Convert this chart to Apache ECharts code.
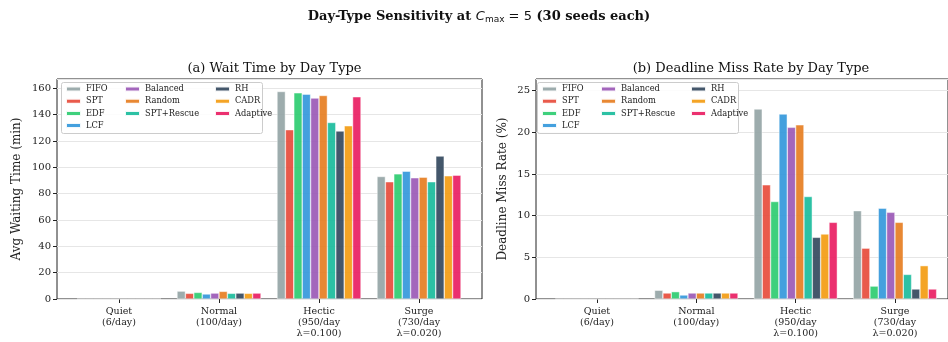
<!DOCTYPE html>
<html lang="en">
<head>
    <meta charset="UTF-8">
    <title>Day-Type Sensitivity</title>
    <script src="https://cdn.jsdelivr.net/npm/echarts@6/dist/echarts.min.js"></script>
    <style>
        *{ margin: 0; padding: 0; }
        body{ background-color: #fff; overflow: hidden; }
    </style>
</head>
<body>
<div id="main" style="width:948px;height:342px;"></div>
<script>
    // categories (day types)
    var dayTypes = ['Quiet\n(6/day)', 'Normal\n(100/day)', 'Hectic\n(950/day\nλ=0.100)', 'Surge\n(730/day\nλ=0.020)'];
    var policies = ['FIFO', 'SPT', 'EDF', 'LCF', 'Balanced', 'Random', 'SPT+Rescue', 'RH', 'CADR', 'Adaptive'];
    var colors = ['#95a5a6', '#e74c3c', '#2ecc71', '#3498db', '#9b59b6', '#e67e22', '#1abc9c', '#34495e', '#f39c12', '#e91e63'];

    // avg waiting time (min), one array per policy: Quiet, Normal, Hectic, Surge
    var waitFIFO       = [0, 6.0, 157.5, 93.0];
    var waitSPT        = [0, 4.3, 128.5, 89.0];
    var waitEDF        = [0, 5.0, 156.5, 95.0];
    var waitLCF        = [0, 3.8, 155.5, 97.0];
    var waitBalanced   = [0, 4.5, 152.5, 92.0];
    var waitRandom     = [0, 5.8, 154.5, 92.5];
    var waitSPTRescue  = [0, 4.3, 134.0, 89.0];
    var waitRH         = [0, 4.5, 127.5, 108.5];
    var waitCADR       = [0, 4.3, 131.5, 93.5];
    var waitAdaptive   = [0, 4.5, 153.5, 94.0];

    // deadline miss rate (%)
    var missFIFO       = [0, 1.05, 22.8, 10.6];
    var missSPT        = [0, 0.72, 13.7, 6.1];
    var missEDF        = [0, 0.88, 11.7, 1.55];
    var missLCF        = [0, 0.48, 22.2, 10.9];
    var missBalanced   = [0, 0.72, 20.6, 10.4];
    var missRandom     = [0, 0.72, 20.9, 9.2];
    var missSPTRescue  = [0, 0.72, 12.3, 2.95];
    var missRH         = [0, 0.72, 7.4, 1.2];
    var missCADR       = [0, 0.72, 7.8, 4.0];
    var missAdaptive   = [0, 0.72, 9.2, 1.2];

    var waitData = [waitFIFO, waitSPT, waitEDF, waitLCF, waitBalanced, waitRandom, waitSPTRescue, waitRH, waitCADR, waitAdaptive];
    var missData = [missFIFO, missSPT, missEDF, missLCF, missBalanced, missRandom, missSPTRescue, missRH, missCADR, missAdaptive];

    var serif = 'DejaVu Serif';
    var axisColor = '#222';

    var myChart = echarts.init(document.getElementById('main'));

    function frameGrid(left, width) {
        return {left: left, top: 79, width: width, height: 220, show: true,
            borderColor: axisColor, borderWidth: 1, backgroundColor: 'transparent'};
    }
    function barGrid(left, width) {
        return {left: left, top: 79, width: width, height: 220};
    }
    function frameX(gi) {
        return {type: 'value', gridIndex: gi, min: 0, max: 1, show: false};
    }
    function catX(gi) {
        return {type: 'category', gridIndex: gi, data: dayTypes,
            axisLine: {show: false},
            axisTick: {show: true, alignWithLabel: true, length: 4, lineStyle: {color: axisColor}},
            axisLabel: {fontFamily: serif, fontSize: 9.5, color: '#222', lineHeight: 11, margin: 7}};
    }
    function valY(gi, max, interval, name, gap) {
        return {type: 'value', gridIndex: gi, min: 0, max: max, interval: interval,
            name: name, nameLocation: 'middle', nameGap: gap,
            nameTextStyle: {fontFamily: serif, fontSize: 12, color: '#222'},
            axisLine: {show: false},
            axisTick: {show: true, length: 4, lineStyle: {color: axisColor}},
            axisLabel: {fontFamily: serif, fontSize: 10, color: '#222', margin: 6,
                showMaxLabel: false},
            splitLine: {show: true, lineStyle: {color: '#e6e6e6', width: 1}}};
    }
    function hiddenY(gi, max) {
        return {type: 'value', gridIndex: gi, min: 0, max: max, show: false, splitLine: {show: false}};
    }

    // legends: three columns in each panel, filled column by column
    var legendCols = [['FIFO', 'SPT', 'EDF', 'LCF'], ['Balanced', 'Random', 'SPT+Rescue'], ['RH', 'CADR', 'Adaptive']];
    var legendOffsets = [0, 59, 149];
    var legends = [];
    [65, 541].forEach(function (x0) {
        legendCols.forEach(function (col, ci) {
            legends.push({
                orient: 'vertical', left: x0 + legendOffsets[ci], top: 84,
                data: col, icon: 'rect', itemWidth: 15, itemHeight: 5,
                itemGap: 2.2, itemTextGap: 7, padding: 0,
                textStyle: {fontFamily: serif, fontSize: 8.3, color: '#222', lineHeight: 10}
            });
        });
    });

    var series = [];
    policies.forEach(function (p, i) {
        var common = {name: p, type: 'bar', barGap: '0%', barCategoryGap: '16%',
            itemStyle: {color: colors[i], opacity: 0.92, borderColor: '#fff', borderWidth: 0.5},
            emphasis: {disabled: true}};
        series.push(Object.assign({}, common, {xAxisIndex: 1, yAxisIndex: 1, data: waitData[i]}));
        series.push(Object.assign({}, common, {xAxisIndex: 3, yAxisIndex: 3, data: missData[i]}));
    });

    var option = {
        animation: false,
        color: colors,
        title: [
            {text: '{b|Day-Type Sensitivity at }{i|C}{s|max}{n| = 5}{b| (30 seeds each)}',
                left: 474, top: 4, textAlign: 'center',
                textStyle: {rich: {
                    b: {fontFamily: serif, fontWeight: 'bold', fontSize: 13, color: '#111'},
                    i: {fontFamily: 'DejaVu Sans', fontStyle: 'italic', fontWeight: 'normal', fontSize: 13, color: '#111'},
                    s: {fontFamily: 'DejaVu Sans', fontWeight: 'normal', fontSize: 9, color: '#111', padding: [6, 0, 0, 0]},
                    n: {fontFamily: 'DejaVu Sans', fontWeight: 'normal', fontSize: 13, color: '#111'}
                }}},
            {text: '(a) Wait Time by Day Type', left: 269.5, top: 57, textAlign: 'center',
                textStyle: {fontFamily: serif, fontWeight: 'normal', fontSize: 13, color: '#111'}},
            {text: '(b) Deadline Miss Rate by Day Type', left: 746, top: 57, textAlign: 'center',
                textStyle: {fontFamily: serif, fontWeight: 'normal', fontSize: 13, color: '#111'}}
        ],
        legend: legends,
        graphic: [
            {type: 'rect', shape: {x: 61.5, y: 82.5, width: 201, height: 51, r: 2},
                style: {fill: 'rgba(255,255,255,0.85)', stroke: '#ccc', lineWidth: 1}, z: 2},
            {type: 'rect', shape: {x: 537.5, y: 82.5, width: 201, height: 51, r: 2},
                style: {fill: 'rgba(255,255,255,0.85)', stroke: '#ccc', lineWidth: 1}, z: 2}
        ],
        grid: [frameGrid(57, 425), barGrid(69, 400), frameGrid(536, 422), barGrid(547.3, 397.3)],
        xAxis: [frameX(0), catX(1), frameX(2), catX(3)],
        yAxis: [valY(0, 167, 20, 'Avg Waiting Time (min)', 34), hiddenY(1, 167),
                valY(2, 26.4, 5, 'Deadline Miss Rate (%)', 27), hiddenY(3, 26.4)],
        series: series
    };

    myChart.setOption(option);
</script>
</body>
</html>
